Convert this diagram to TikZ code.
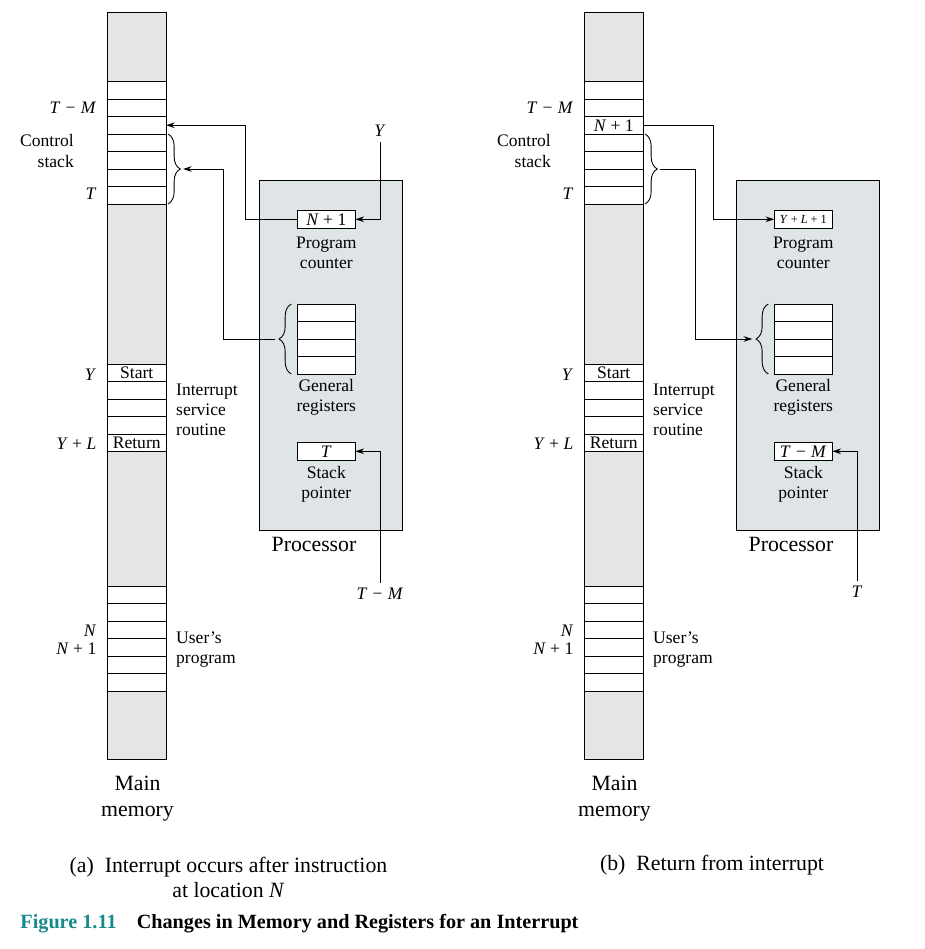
\documentclass[tikz,border=0pt]{standalone}
\usepackage{fontspec}
\setmainfont{Liberation Serif}
\usetikzlibrary{positioning,calc,arrows.meta,decorations.pathreplacing}
\definecolor{memgray}{HTML}{E5E5E5}
\definecolor{procgray}{HTML}{DFE5E7}
\definecolor{figteal}{HTML}{16898B}
\newcommand{\mv}[1]{\textit{#1}}
\newcommand{\mminus}{\hspace{.3em}−\hspace{.3em}}
\tikzset{cell/.style={draw,fill=white,minimum width=1.17cm,minimum height=0.35cm,inner sep=0pt,outer sep=0pt,font=\fontsize{10}{12}\selectfont}}
\tikzset{reg/.style={draw,fill=white,minimum width=1.16cm,minimum height=0.36cm,inner sep=0pt,outer sep=0pt,font=\fontsize{10}{12}\selectfont}}
\tikzset{lbl/.style={inner sep=1pt,align=center,font=\fontsize{10}{11.4}\selectfont}}
\tikzset{big/.style={inner sep=0pt,align=center,font=\fontsize{12.4}{14.8}\selectfont}}
\tikzset{captext/.style={inner sep=0pt,align=center,font=\fontsize{12.4}{14.2}\selectfont}}
\tikzset{link/.style={-{Stealth[length=5pt,width=3.2pt]}}}
\tikzset{brc/.style={decorate,decoration={brace,amplitude=7pt}}}

\begin{document}
\begin{tikzpicture}[x=0.02cm,y=-0.02cm,line width=0.5pt]
  \useasboundingbox (0,0) rectangle (925,949);
  \foreach \p/\dx/\pcv/\spv in {a/0/{\mv{N} + 1}/{\mv{T}},b/477/{\fontsize{7}{8}\selectfont\mv{Y} + \mv{L} + 1}/{\mv{T}\mminus\mv{M}}}{
  \begin{scope}[shift={(\dx,0)}]
    % main memory column
    \node[draw,fill=memgray,minimum width=1.17cm,minimum height=14.96cm,inner sep=0pt] (\p-mem) at (136.75,386) {};
    \foreach \i in {1,...,7}
      \node[cell] (\p-st\i) at (136.75,{81.5+17.5*(\i-0.5)}) {};
    \node[cell] (\p-is1) at (136.75,372.75) {Start};
    \foreach \i in {2,...,4}
      \node[cell] (\p-is\i) at (136.75,{364+17.5*(\i-0.5)}) {};
    \node[cell] (\p-is5) at (136.75,442.75) {Return};
    \foreach \i in {1,...,6}
      \node[cell] (\p-us\i) at (136.75,{586+17.5*(\i-0.5)}) {};
    \node[big] (\p-mm) at (137.5,799) {Main\\memory};

    % labels on the column
    \node[lbl,anchor=east] (\p-ltm) at ($(\p-st2.west)+(-9,0)$) {\mv{T}\mminus\mv{M}};
    \node[lbl,anchor=east,align=right] (\p-lcs) at (76,151) {Control\\stack};
    \node[lbl,anchor=east] (\p-lt) at ($(\p-st7.west)+(-9,-2)$) {\mv{T}};
    \node[lbl,anchor=east] (\p-ly) at ($(\p-is1.west)+(-9,2)$) {\mv{Y}};
    \node[lbl,anchor=east] (\p-lyl) at ($(\p-is5.west)+(-9,1)$) {\mv{Y} + \mv{L}};
    \node[lbl,anchor=west,align=left] (\p-lisr) at ($(\p-is3.east)+(8,2)$) {Interrupt\\service\\routine};
    \node[lbl,anchor=east] (\p-ln) at ($(\p-us3.west)+(-9,1)$) {\mv{N}};
    \node[lbl,anchor=east] (\p-ln1) at ($(\p-us4.west)+(-9,1)$) {\mv{N} + 1};
    \node[lbl,anchor=west,align=left] (\p-lup) at ($(\p-us4.east)+(8,2)$) {User’s\\program};

    % processor
    \node[draw,fill=procgray,minimum width=2.852cm,minimum height=7cm,inner sep=0pt] (\p-proc) at (331,355) {};
    \node[big] (\p-lproc) at (314,544) {Processor};
    \node[reg] (\p-pc) at (326.3,219.3) {\pcv};
    \node[lbl] (\p-lpc) at (326.3,253) {Program\\counter};
    \foreach \i in {1,...,4}
      \node[reg,minimum height=0.35cm] (\p-g\i) at (326.3,{312.75+17.5*(\i-1)}) {};
    \node[lbl] (\p-lgr) at (326.3,397) {General\\registers};
    \node[reg] (\p-sp) at (326.3,451.3) {\spv};
    \node[lbl] (\p-lsp) at (326.3,484) {Stack\\pointer};

    % braces
    \draw[brc] ($(\p-st4.north east)+(2,0)$) -- ($(\p-st7.south east)+(2,0)$);
    \coordinate (\p-bt) at ($(\p-st4.north east)!.5!(\p-st7.south east)+(17,0)$);
    \draw[brc] ($(\p-g4.south west)+(-6,0)$) -- ($(\p-g1.north west)+(-6,0)$);
    \coordinate (\p-gt) at ($(\p-g1.north west)!.5!(\p-g4.south west)+(-22,0)$);
  \end{scope}}

  % (a) interrupt occurs
  \draw[link] (a-pc.west) -- ++(-51.6,0) |- (a-st3.east);
  \draw[link] (a-gt) -- ++(-52,0) |- (a-bt);
  \node[lbl,inner sep=3pt] (a-y) at (380,131) {\mv{Y}};
  \draw[link] (a-y.south) |- (a-pc.east);
  \node[lbl,inner sep=3pt] (a-tm) at (380,594) {\mv{T}\mminus\mv{M}};
  \draw[link] (a-tm.north) |- (a-sp.east);

  % (b) return from interrupt
  \node[cell] (b-n1) at (b-st3) {\mv{N} + 1};
  \draw[link] (b-n1.east) -- ++(70,0) |- (b-pc.west);
  \draw[link] (b-bt) -- ++(35,0) |- (b-gt);
  \node[lbl,inner sep=3pt] (b-t) at (857,592) {\mv{T}};
  \draw[link] (b-t.north) |- (b-sp.east);

  % captions
  \node[captext] (capa) at (228.5,877.5) {(a)\enspace Interrupt occurs after instruction\\at location \mv{N}};
  \node[captext] (capb) at (712,865) {(b)\enspace Return from interrupt};
  \node[anchor=west,inner sep=0pt,font=\bfseries\fontsize{11.5}{14}\selectfont] (fig) at (20,924)
    {\textcolor{figteal}{Figure 1.11}\quad Changes in Memory and Registers for an Interrupt};
\end{tikzpicture}
\end{document}
